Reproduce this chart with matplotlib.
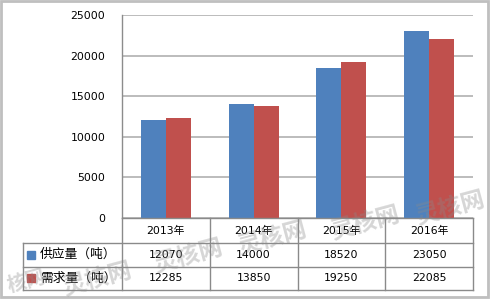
import matplotlib
matplotlib.use("Agg")
import matplotlib.pyplot as plt
from matplotlib.lines import Line2D
from matplotlib.patches import Rectangle
import numpy as np

plt.rcParams['font.family'] = ['DejaVu Sans', 'Noto Sans CJK SC']

years = ["2013年", "2014年", "2015年", "2016年"]
series_names = ["供应量（吨）", "需求量（吨）"]
supply = [12070, 14000, 18520, 23050]
demand = [12285, 13850, 19250, 22085]
colors = ["#4F81BD", "#C0504D"]
yticks = [0, 5000, 10000, 15000, 20000, 25000]

W, H = 490, 299
fig = plt.figure(figsize=(W / 100, H / 100), dpi=100)
fig.patch.set_facecolor("white")

def fx(x):
    return x / W

def fy(y):
    return 1 - y / H

# plot area (pixels)
L, R, T, B = 122, 473, 15, 218
ax = fig.add_axes([fx(L), fy(B), fx(R) - fx(L), (B - T) / H])
x = np.arange(len(years))
bw = 0.285
ax.bar(x - bw / 2, supply, bw, color=colors[0], zorder=3)
ax.bar(x + bw / 2, demand, bw, color=colors[1], zorder=3)
ax.set_xlim(-0.5, len(years) - 0.5)
ax.set_ylim(0, 25000)
ax.set_yticks(yticks)
ax.set_yticklabels([str(v) for v in yticks], fontsize=7.8)
ax.tick_params(axis="y", length=0, pad=12)
ax.set_xticks([])
ax.yaxis.grid(True, color="#B0B0B0", linewidth=1.2, zorder=0)
for s in ["top", "right", "bottom"]:
    ax.spines[s].set_visible(False)
ax.spines["left"].set_color("#8C8C8C")
ax.spines["left"].set_linewidth(1.0)

# data table
line_col = "#8A8A8A"
rows_y = [218, 243, 266.5, 290]
col_x = [L + (R - L) * i / len(years) for i in range(len(years) + 1)]
tab_left = 23

def hline(y, x0, x1):
    fig.add_artist(Line2D([fx(x0), fx(x1)], [fy(y), fy(y)], color=line_col, lw=1.0))

def vline(x, y0, y1):
    fig.add_artist(Line2D([fx(x), fx(x)], [fy(y0), fy(y1)], color=line_col, lw=1.0))

hline(rows_y[0], L, R)
for yy in rows_y[1:]:
    hline(yy, tab_left, R)
for xx in col_x:
    vline(xx, rows_y[0], rows_y[3])
vline(tab_left, rows_y[1], rows_y[3])

for i, yr in enumerate(years):
    cx = (col_x[i] + col_x[i + 1]) / 2
    fig.text(fx(cx), fy((rows_y[0] + rows_y[1]) / 2), yr, ha="center", va="center", fontsize=7.8)
    fig.text(fx(cx), fy((rows_y[1] + rows_y[2]) / 2), str(supply[i]), ha="center", va="center", fontsize=7.8)
    fig.text(fx(cx), fy((rows_y[2] + rows_y[3]) / 2), str(demand[i]), ha="center", va="center", fontsize=7.8)

for j, (name, c) in enumerate(zip(series_names, colors)):
    cy = (rows_y[j + 1] + rows_y[j + 2]) / 2
    fig.add_artist(Rectangle((fx(27), fy(cy + 4)), fx(8), 8 / H, color=c))
    fig.text(fx(40), fy(cy), name, ha="left", va="center", fontsize=9.2)

# watermark
marks = [("核网", 26, 282, 14), ("灵核网", 97, 279, 17), ("灵核网", 188, 256, 17),
         ("灵核网", 272, 238, 17), ("灵核网", 365, 223, 17), ("灵核网", 450, 208, 17)]
for (s, wx, wy, fs) in marks:
    fig.text(fx(wx), fy(wy), s, ha="center", va="center", fontsize=fs,
             fontweight="bold", color="#8A8A8A", alpha=0.35, rotation=15,
             family=["Noto Sans CJK SC"], zorder=10)

# outer frame
fig.add_artist(Rectangle((fx(1), fy(297)), fx(487), 296 / H, fill=False,
                         edgecolor="#BFBFBF", lw=2))

fig.savefig("out.png", dpi=100, facecolor="white")
